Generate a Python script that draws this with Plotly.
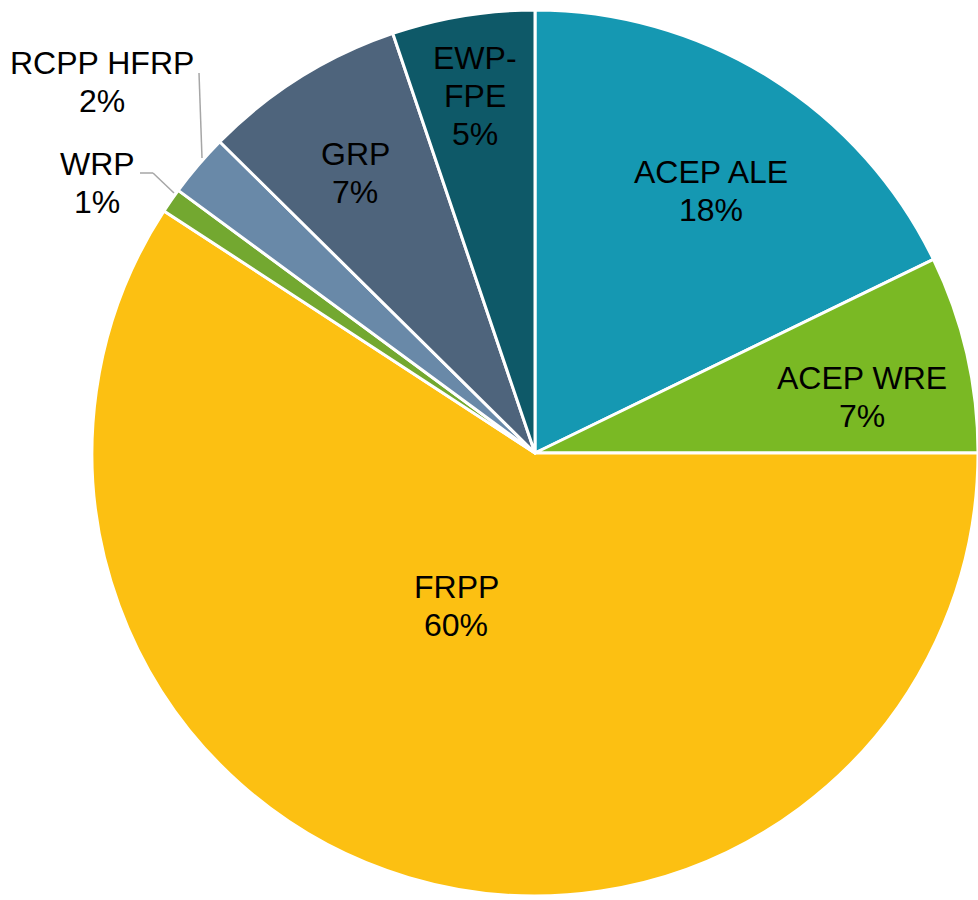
import plotly.graph_objects as go

labels = ["ACEP ALE", "ACEP WRE", "FRPP", "WRP", "RCPP HFRP", "GRP", "EWP-FPE"]
values = [17.8, 7.2, 59.2, 0.9, 2.3, 7.4, 5.2]
pct_text = ["18%", "7%", "60%", "1%", "2%", "7%", "5%"]
label_lines = [["ACEP ALE"], ["ACEP WRE"], ["FRPP"], ["WRP"], ["RCPP HFRP"], ["GRP"], ["EWP-", "FPE"]]
colors = ["#1598B2", "#7AB924", "#FCC012", "#73A830", "#6989A8", "#4E647C", "#0E5968"]

W, H = 978, 900

fig = go.Figure(go.Pie(
    labels=labels,
    values=values,
    sort=False,
    direction="clockwise",
    rotation=0,
    marker=dict(colors=colors, line=dict(color="white", width=3)),
    textinfo="none",
    hoverinfo="label+percent",
    showlegend=False,
    domain=dict(x=[92 / W, 1.0], y=[4 / H, 890 / H]),
))

# label placement (pixel centres of each text block, from top-left)
label_pos = {
    "ACEP ALE": (711, 191),
    "ACEP WRE": (862, 397),
    "FRPP": (456, 606),
    "WRP": (97, 183),
    "RCPP HFRP": (102, 82),
    "GRP": (355, 173),
    "EWP-FPE": (475, 96),
}
line_step = 38
for lab, lines, pct in zip(labels, label_lines, pct_text):
    px, py = label_pos[lab]
    all_lines = lines + [pct]
    n = len(all_lines)
    for i, t in enumerate(all_lines):
        yy = py + (i - (n - 1) / 2) * line_step
        fig.add_annotation(
            x=px / W, y=1 - yy / H, xref="paper", yref="paper",
            text=t, showarrow=False,
            xanchor="center", yanchor="middle", align="center",
            font=dict(family="Liberation Sans, Arial, sans-serif", size=32, color="#000000"),
        )

# leader lines for small outside labels
lead_color = "#A6A6A6"
leaders = [
    [(199, 73), (202, 158)],
    [(140, 173), (153, 173), (174, 193)],
]
for pts in leaders:
    for (x0, y0), (x1, y1) in zip(pts[:-1], pts[1:]):
        fig.add_shape(type="line", xref="paper", yref="paper",
                      x0=x0 / W, y0=1 - y0 / H, x1=x1 / W, y1=1 - y1 / H,
                      line=dict(color=lead_color, width=1.5))

fig.update_layout(
    width=W, height=H,
    margin=dict(l=0, r=0, t=0, b=0),
    paper_bgcolor="white",
    plot_bgcolor="white",
)

fig.write_html("out.html", config={"displayModeBar": False},
               post_script="document.body.style.margin='0';document.body.style.overflow='hidden';")
